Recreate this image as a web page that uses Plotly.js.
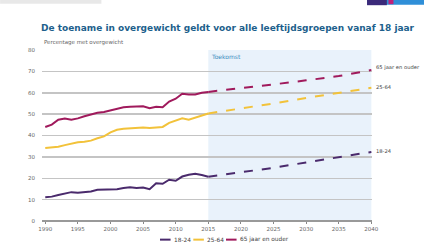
<!DOCTYPE html>
<html><head><meta charset="utf-8">
<script src="https://cdn.plot.ly/plotly-3.0.1.min.js"></script>
<style>html,body{margin:0;padding:0;background:#fff;}#c{width:424px;height:246px;}</style>
</head><body><div id="c"></div>
<script>
const yearsHist = [1990,1991,1992,1993,1994,1995,1996,1997,1998,1999,2000,2001,2002,2003,2004,2005,2006,2007,2008,2009,2010,2011,2012,2013,2014,2015];
const hist1824 = [11.1,11.4,12.2,13.0,13.5,13.2,13.6,13.8,14.6,14.6,14.9,14.9,15.4,15.8,15.4,15.7,14.9,17.7,17.4,19.3,18.8,20.8,21.6,22.1,21.5,20.7];
const hist2564 = [34.1,34.3,34.7,35.5,36.2,36.8,37.1,37.6,38.7,39.6,41.5,42.7,43.2,43.5,43.8,43.8,43.5,43.8,44.0,45.9,47.0,48.1,47.4,48.4,49.3,50.3];
const hist65 = [44.0,45.1,47.4,48.0,47.4,48.0,49.0,49.8,50.6,51.0,51.8,52.6,53.2,53.5,53.7,53.7,52.8,53.4,53.2,55.9,57.2,59.5,59.2,59.2,60.0,60.4];
const yearsProj = [2015,2020,2025,2030,2035,2040];
const proj1824 = [20.7,22.7,24.9,27.4,29.9,32.3];
const proj2564 = [50.3,52.5,55.0,57.6,60.0,62.3];
const proj65 = [60.4,62.0,63.9,65.8,67.8,70.6];
const seriesNames = ['18-24','25-64','65 jaar en ouder'];
const endLabels = ['18-24','25-64','65 jaar en ouder'];
const endLabelY = [32.6,62.6,71.6];
const colors = ['#4a2a6c','#f2c23a','#a01a5c'];
const futureStart = 2015, futureEnd = 2040;
const futureLabel = 'Toekomst';
const xTicks = [1990,1995,2000,2005,2010,2015,2020,2025,2030,2035,2040];
const yTicks = [0,10,20,30,40,50,60,70,80];
const titleText = 'De toename in overgewicht geldt voor alle leeftijdsgroepen vanaf 18 jaar';
const yLabel = 'Percentage met overgewicht';

const hist = [hist1824, hist2564, hist65];
const proj = [proj1824, proj2564, proj65];
const traces = [];
for (let i=0;i<3;i++){
  traces.push({x:yearsHist,y:hist[i],type:'scatter',mode:'lines',name:seriesNames[i],
    line:{color:colors[i],width:2},showlegend:false});
}
for (let i=0;i<3;i++){
  traces.push({x:yearsProj,y:proj[i],type:'scatter',mode:'lines',name:seriesNames[i],
    line:{color:colors[i],width:2,dash:'dash'},showlegend:false});
}
const annotations = endLabels.map((t,i)=>({x:futureEnd,y:endLabelY[i],xref:'x',yref:'y',text:t,showarrow:false,
  xanchor:'left',xshift:3,font:{family:'DejaVu Sans',size:5.2,color:'#444'}}));
annotations.push({x:futureStart,y:80,xref:'x',yref:'y',text:futureLabel,showarrow:false,xanchor:'left',yanchor:'top',
  xshift:1,yshift:-1,font:{family:'DejaVu Sans',size:6,color:'#3a8cc0'}});
annotations.push({x:0,y:1,xref:'paper',yref:'paper',text:yLabel,showarrow:false,xanchor:'left',yanchor:'bottom',
  yshift:2,font:{family:'DejaVu Sans',size:5.5,color:'#666'}});
annotations.push({x:-0.008,y:1,xref:'paper',yref:'paper',text:titleText,showarrow:false,xanchor:'left',yanchor:'bottom',
  yshift:15,font:{family:'DejaVu Sans',size:9,color:'#1d5f8c',weight:'bold'}});

// custom compact legend below the plot
const legendLineX = [0.3576,0.4585,0.5576];
const legendLineW = 0.032;
const legendY = -0.109;
const shapes = [
  {type:'rect',xref:'x',yref:'y',x0:futureStart,x1:futureEnd,y0:0,y1:80,fillcolor:'#e9f2fb',line:{width:0},layer:'below'},
  {type:'rect',xref:'paper',yref:'paper',x0:-0.127,x1:0.18,y0:1.294,y1:1.27,fillcolor:'#e8e8e8',line:{width:0}},
  {type:'rect',xref:'paper',yref:'paper',x0:0.985,x1:1.16,y0:1.294,y1:1.265,fillcolor:'#2f8fd8',line:{width:0}},
  {type:'rect',xref:'paper',yref:'paper',x0:0.985,x1:1.045,y0:1.294,y1:1.262,fillcolor:'#3b2a7a',line:{width:0}},
  {type:'rect',xref:'paper',yref:'paper',x0:1.05,x1:1.065,y0:1.294,y1:1.268,fillcolor:'#c0207a',line:{width:0}}
];
seriesNames.forEach((n,i)=>{
  shapes.push({type:'line',xref:'paper',yref:'paper',x0:legendLineX[i],x1:legendLineX[i]+legendLineW,y0:legendY,y1:legendY,
    line:{color:colors[i],width:2}});
  annotations.push({x:legendLineX[i]+legendLineW,y:legendY,xref:'paper',yref:'paper',text:n,showarrow:false,
    xanchor:'left',yanchor:'middle',xshift:1,font:{family:'DejaVu Sans',size:5.8,color:'#444'}});
});

const layout = {
  width:424,height:246,
  margin:{l:42,r:52,t:50,b:25},
  paper_bgcolor:'#fff',plot_bgcolor:'rgba(0,0,0,0)',
  showlegend:false,
  xaxis:{range:[1989.5,2040.1],tickvals:xTicks,showgrid:false,zeroline:false,showline:false,
    ticks:'outside',ticklen:2,tickcolor:'#888',tickfont:{family:'DejaVu Sans',size:5.5,color:'#666'},fixedrange:true},
  yaxis:{range:[0,80],tickvals:yTicks,showgrid:true,gridcolor:'#c4c4c4',gridwidth:1.5,zeroline:true,zerolinecolor:'#999',zerolinewidth:1.5,
    showline:false,ticks:'',ticklabelstandoff:6,tickfont:{family:'DejaVu Sans',size:5.5,color:'#666'},fixedrange:true},
  shapes:shapes,
  annotations:annotations
};
Plotly.newPlot('c',traces,layout,{displayModeBar:false,staticPlot:true});
</script></body></html>
